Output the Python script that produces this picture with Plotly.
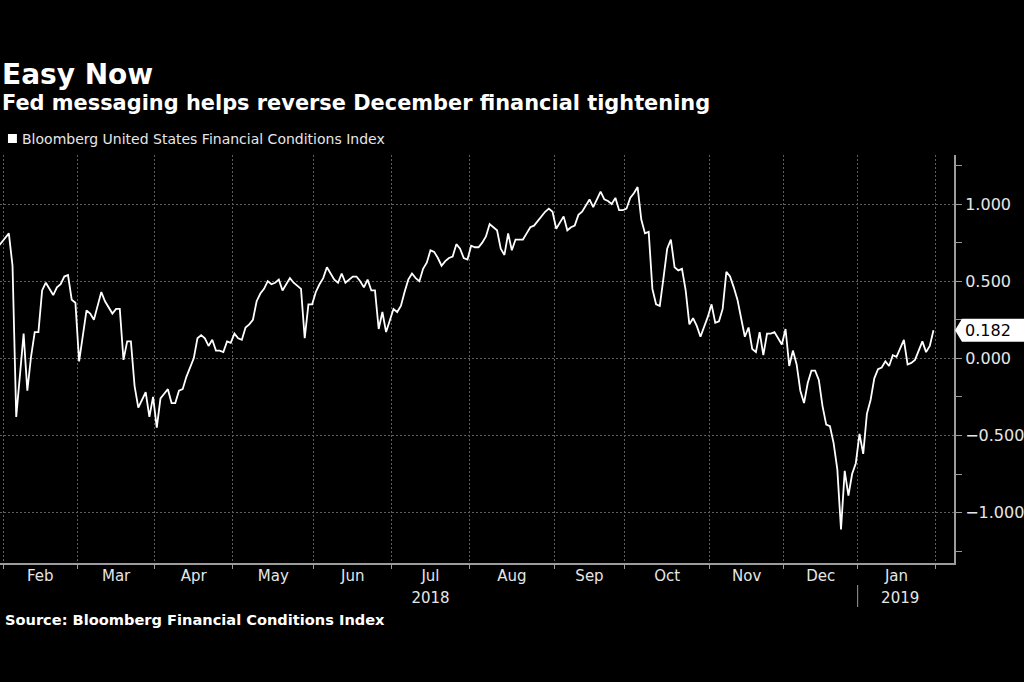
import plotly.graph_objects as go
import pandas as pd

# ---------------- data ----------------
series_name = "Bloomberg United States Financial Conditions Index"

dates = [
    "2018-01-30", "2018-01-31",
    "2018-02-01", "2018-02-02", "2018-02-05", "2018-02-06", "2018-02-08", "2018-02-09", "2018-02-12",
    "2018-02-13", "2018-02-14", "2018-02-15", "2018-02-16", "2018-02-19", "2018-02-20", "2018-02-21",
    "2018-02-22", "2018-02-23", "2018-02-26", "2018-02-27", "2018-02-28",
    "2018-03-01", "2018-03-02", "2018-03-05", "2018-03-06", "2018-03-07", "2018-03-08", "2018-03-09",
    "2018-03-12", "2018-03-13", "2018-03-14", "2018-03-15", "2018-03-16", "2018-03-19", "2018-03-20",
    "2018-03-21", "2018-03-22", "2018-03-23", "2018-03-26", "2018-03-27", "2018-03-28", "2018-03-29",
    "2018-04-02", "2018-04-03", "2018-04-04", "2018-04-05", "2018-04-06", "2018-04-09", "2018-04-10",
    "2018-04-11", "2018-04-12", "2018-04-13", "2018-04-16", "2018-04-17", "2018-04-18", "2018-04-19",
    "2018-04-20", "2018-04-23", "2018-04-24", "2018-04-25", "2018-04-26", "2018-04-27", "2018-04-30",
    "2018-05-01", "2018-05-02", "2018-05-03", "2018-05-04", "2018-05-07", "2018-05-08", "2018-05-09",
    "2018-05-10", "2018-05-11", "2018-05-14", "2018-05-15", "2018-05-16", "2018-05-17", "2018-05-18",
    "2018-05-21", "2018-05-22", "2018-05-23", "2018-05-24", "2018-05-25", "2018-05-29", "2018-05-30",
    "2018-05-31",
    "2018-06-01", "2018-06-04", "2018-06-05", "2018-06-06", "2018-06-07", "2018-06-08", "2018-06-11",
    "2018-06-12", "2018-06-13", "2018-06-14", "2018-06-15", "2018-06-18", "2018-06-19", "2018-06-20",
    "2018-06-21", "2018-06-22", "2018-06-25", "2018-06-26", "2018-06-27", "2018-06-28", "2018-06-29",
    "2018-07-02", "2018-07-03", "2018-07-05", "2018-07-06", "2018-07-09", "2018-07-10", "2018-07-11",
    "2018-07-12", "2018-07-13", "2018-07-16", "2018-07-17", "2018-07-18", "2018-07-19", "2018-07-20",
    "2018-07-23", "2018-07-24", "2018-07-25", "2018-07-26", "2018-07-27", "2018-07-30", "2018-07-31",
    "2018-08-01", "2018-08-02", "2018-08-03", "2018-08-06", "2018-08-07", "2018-08-08", "2018-08-09",
    "2018-08-10", "2018-08-13", "2018-08-14", "2018-08-15", "2018-08-16", "2018-08-17", "2018-08-20",
    "2018-08-21", "2018-08-22", "2018-08-23", "2018-08-24", "2018-08-27", "2018-08-28", "2018-08-29",
    "2018-08-30", "2018-08-31",
    "2018-09-04", "2018-09-05", "2018-09-06", "2018-09-07", "2018-09-10", "2018-09-11", "2018-09-12",
    "2018-09-13", "2018-09-14", "2018-09-17", "2018-09-18", "2018-09-19", "2018-09-20", "2018-09-21",
    "2018-09-24", "2018-09-25", "2018-09-26", "2018-09-27", "2018-09-28",
    "2018-10-01", "2018-10-02", "2018-10-03", "2018-10-04", "2018-10-05", "2018-10-08", "2018-10-09",
    "2018-10-10", "2018-10-11", "2018-10-12", "2018-10-15", "2018-10-16", "2018-10-17", "2018-10-18",
    "2018-10-19", "2018-10-22", "2018-10-23", "2018-10-24", "2018-10-25", "2018-10-26", "2018-10-29",
    "2018-10-30", "2018-10-31",
    "2018-11-01", "2018-11-02", "2018-11-05", "2018-11-06", "2018-11-07", "2018-11-08", "2018-11-09",
    "2018-11-12", "2018-11-13", "2018-11-14", "2018-11-15", "2018-11-16", "2018-11-19", "2018-11-20",
    "2018-11-21", "2018-11-26", "2018-11-27", "2018-11-28", "2018-11-29", "2018-11-30",
    "2018-12-03", "2018-12-04", "2018-12-05", "2018-12-06", "2018-12-07", "2018-12-10", "2018-12-11",
    "2018-12-12", "2018-12-13", "2018-12-14", "2018-12-17", "2018-12-18", "2018-12-19", "2018-12-20",
    "2018-12-21", "2018-12-24", "2018-12-26", "2018-12-27", "2018-12-28", "2018-12-31",
    "2019-01-02", "2019-01-03", "2019-01-04", "2019-01-07", "2019-01-08", "2019-01-09", "2019-01-10",
    "2019-01-11", "2019-01-14", "2019-01-15", "2019-01-16", "2019-01-17", "2019-01-18", "2019-01-22",
    "2019-01-23", "2019-01-24", "2019-01-25", "2019-01-28", "2019-01-29", "2019-01-30", "2019-01-31",
]

fci = [
    0.72, 0.75,
    0.78, 0.81, 0.60, -0.38, 0.16, -0.21, 0.01,
    0.17, 0.17, 0.44, 0.49, 0.45, 0.41, 0.46,
    0.48, 0.53, 0.54, 0.38, 0.36,
    -0.02, 0.14, 0.31, 0.29, 0.25, 0.34, 0.43,
    0.37, 0.33, 0.29, 0.32, 0.32, -0.01, 0.11,
    0.11, -0.18, -0.32, -0.27, -0.22, -0.38, -0.25,
    -0.45, -0.26, -0.23, -0.20, -0.29, -0.29, -0.21,
    -0.20, -0.12, -0.06, 0.00, 0.13, 0.15, 0.13,
    0.08, 0.12, 0.05, 0.05, 0.04, 0.11, 0.10,
    0.16, 0.13, 0.12, 0.20, 0.22, 0.25, 0.37,
    0.42, 0.45, 0.50, 0.48, 0.49, 0.51, 0.44,
    0.48, 0.52, 0.49, 0.47, 0.45, 0.13, 0.35,
    0.35,
    0.43, 0.48, 0.52, 0.59, 0.55, 0.51, 0.49,
    0.55, 0.49, 0.51, 0.53, 0.53, 0.50, 0.46,
    0.51, 0.44, 0.44, 0.19, 0.30, 0.17, 0.25,
    0.32, 0.30, 0.34, 0.43, 0.51, 0.55, 0.52,
    0.50, 0.58, 0.62, 0.70, 0.69, 0.65, 0.60,
    0.63, 0.65, 0.66, 0.74, 0.71, 0.65, 0.64,
    0.73, 0.72, 0.72, 0.75, 0.79, 0.87, 0.85,
    0.83, 0.71, 0.67, 0.81, 0.70, 0.77, 0.77,
    0.77, 0.81, 0.85, 0.86, 0.89, 0.92, 0.95,
    0.97, 0.95,
    0.84, 0.88, 0.92, 0.83, 0.85, 0.86, 0.93,
    0.95, 0.99, 1.03, 0.98, 1.03, 1.08, 1.03,
    1.02, 1.00, 1.04, 0.96, 0.96,
    0.97, 1.04, 1.07, 1.11, 0.90, 0.81, 0.82,
    0.45, 0.35, 0.34, 0.52, 0.71, 0.77, 0.59,
    0.57, 0.58, 0.44, 0.22, 0.26, 0.21, 0.14,
    0.20, 0.27,
    0.35, 0.23, 0.24, 0.32, 0.56, 0.53, 0.46,
    0.38, 0.26, 0.14, 0.20, 0.06, 0.04, 0.17,
    0.02, 0.16, 0.16, 0.17, 0.13, 0.09,
    0.19, -0.05, 0.05, -0.04, -0.21, -0.29, -0.16,
    -0.08, -0.08, -0.14, -0.31, -0.43, -0.44, -0.55,
    -0.72, -1.11, -0.73, -0.89, -0.75, -0.68,
    -0.49, -0.62, -0.36, -0.27, -0.13, -0.07, -0.06,
    -0.02, -0.05, 0.02, 0.01, 0.06, 0.12, -0.04,
    -0.03, -0.01, 0.05, 0.11, 0.04, 0.08, 0.182,
]

# market holidays removed from the trading-day axis
holidays = ["2018-03-30", "2018-05-28", "2018-07-04", "2018-09-03", "2018-11-22",
            "2018-11-23", "2018-12-25", "2019-01-01", "2019-01-21"]

# first session of each month (tick / grid positions)
month_starts = ["2018-02-01", "2018-03-01", "2018-04-02", "2018-05-01", "2018-06-01",
                "2018-07-02", "2018-08-01", "2018-09-04", "2018-10-01", "2018-11-01",
                "2018-12-03", "2019-01-02", "2019-02-01"]
# centre of each month on the trading-day axis (label positions)
month_mids = ["2018-02-15", "2018-03-15 12:00", "2018-04-16 12:00", "2018-05-16",
              "2018-06-15 12:00", "2018-07-17 12:00", "2018-08-16 12:00", "2018-09-17 12:00",
              "2018-10-16 12:00", "2018-11-15", "2018-12-17", "2019-01-16 12:00"]
month_labels = ["Feb", "Mar", "Apr", "May", "Jun", "Jul", "Aug", "Sep", "Oct",
                "Nov", "Dec", "Jan"]
year_mids = ["2018-07-17 12:00", "2019-01-17 12:00"]
year_labels = ["2018", "2019"]
y_ticks = [-1.0, -0.5, 0.0, 0.5, 1.0]

title = "Easy Now"
subtitle = "Fed messaging helps reverse December financial tightening"
source = "Source: Bloomberg Financial Conditions Index"

# ---------------- layout geometry ----------------
W, H = 1024, 682
L, R, T, B = 0, 958, 155, 563
X_RANGE = ["2018-01-31 02:40", "2019-02-08 01:10"]
Y_RANGE = [-1.327, 1.318]


def px(x):
    return (x - L) / (R - L)


def py(y):
    return (B - y) / (B - T)


FONT = "DejaVu Sans"
AXIS_COL = "#9c9c9c"
GRID_COL = "#5e5e5e"
TEXT_COL = "#e6e6e6"
DASH = "2px,2px"

breaks = [dict(bounds=["sat", "mon"]), dict(values=holidays)]

# each session is drawn in the middle of its slot
x_plot = pd.to_datetime(dates) + pd.Timedelta(hours=12)

fig = go.Figure()
fig.add_trace(go.Scatter(
    x=x_plot, y=fci, mode="lines", name=series_name,
    line=dict(color="#ffffff", width=1.8), showlegend=False, hoverinfo="x+y",
))
# helpers so that the label axes are drawn
fig.add_trace(go.Scatter(x=[x_plot[0]], y=[None], xaxis="x2", mode="lines",
                         showlegend=False, hoverinfo="skip"))
fig.add_trace(go.Scatter(x=[x_plot[0]], y=[None], xaxis="x3", mode="lines",
                         showlegend=False, hoverinfo="skip"))

label_axis = dict(type="date", range=X_RANGE, rangebreaks=breaks, overlaying="x",
                  side="bottom", anchor="y", tickmode="array", ticks="", ticklen=0,
                  showgrid=False, showline=False, zeroline=False, fixedrange=True,
                  tickfont=dict(family=FONT, size=15, color=TEXT_COL))

fig.update_layout(
    width=W, height=H,
    paper_bgcolor="#000000", plot_bgcolor="#000000",
    margin=dict(l=L, r=W - R, t=T, b=H - B, pad=0),
    font=dict(family=FONT, color=TEXT_COL),
    showlegend=False,
    xaxis=dict(
        type="date", range=X_RANGE, rangebreaks=breaks,
        tickmode="array", tickvals=month_starts, showticklabels=False,
        ticks="outside", ticklen=4, tickcolor=AXIS_COL, tickwidth=1,
        showgrid=True, gridcolor=GRID_COL, griddash=DASH, gridwidth=1,
        showline=True, linecolor=AXIS_COL, linewidth=2,
        zeroline=False, fixedrange=True,
    ),
    xaxis2=dict(label_axis, tickvals=month_mids, ticktext=month_labels, ticklabelstandoff=2),
    xaxis3=dict(label_axis, tickvals=year_mids, ticktext=year_labels, ticklabelstandoff=24),
    yaxis=dict(
        range=Y_RANGE, side="right", tickmode="array", tickvals=y_ticks,
        tickformat=".3f", ticks="outside", ticklen=6, tickcolor=AXIS_COL,
        tickfont=dict(family=FONT, size=16, color=TEXT_COL),
        minor=dict(dtick=0.25, tick0=0, ticks="outside", ticklen=6, tickcolor=AXIS_COL,
                   showgrid=False),
        showgrid=True, gridcolor=GRID_COL, griddash=DASH, gridwidth=1,
        showline=True, linecolor=AXIS_COL, linewidth=2, zeroline=False, fixedrange=True,
    ),
)

# year separator under the axis
fig.add_shape(type="line", xref="x", yref="paper", x0=month_starts[11], x1=month_starts[11],
              y0=py(585), y1=py(607), line=dict(color=AXIS_COL, width=1))

# titles, legend and source
fig.add_annotation(text=f"<b>{title}</b>", xref="paper", yref="paper", x=px(0), y=py(74),
                   xanchor="left", yanchor="middle", showarrow=False,
                   font=dict(family=FONT, size=28, color="#ffffff"))
fig.add_annotation(text=f"<b>{subtitle}</b>", xref="paper", yref="paper", x=px(0), y=py(103),
                   xanchor="left", yanchor="middle", showarrow=False,
                   font=dict(family=FONT, size=20.9, color="#ffffff"))
fig.add_shape(type="rect", xref="paper", yref="paper", x0=px(8), x1=px(17), y0=py(143),
              y1=py(134), fillcolor="#ffffff", line=dict(width=0))
fig.add_annotation(text=series_name, xref="paper", yref="paper", x=px(20), y=py(139),
                   xanchor="left", yanchor="middle", showarrow=False,
                   font=dict(family=FONT, size=14, color=TEXT_COL))
fig.add_annotation(text=f"<b>{source}</b>", xref="paper", yref="paper", x=px(3), y=py(619),
                   xanchor="left", yanchor="middle", showarrow=False,
                   font=dict(family=FONT, size=14.6, color="#ffffff"))

# last-value tag on the right axis
last = fci[-1]
half = 11.5 * (Y_RANGE[1] - Y_RANGE[0]) / (B - T)
x_tip, x_body, x_end = px(959), px(966), px(1030)
fig.add_shape(type="path", xref="paper", yref="y",
              path=(f"M {x_tip},{last} L {x_body},{last + half} L {x_end},{last + half} "
                    f"L {x_end},{last - half} L {x_body},{last - half} Z"),
              fillcolor="#ffffff", line=dict(width=0))
fig.add_annotation(text=f"{last:.3f}", xref="paper", yref="y", x=px(967), y=last,
                   xanchor="left", yanchor="middle", showarrow=False,
                   font=dict(family=FONT, size=16, color="#000000"))

# page without the browser's default body margin, no mode bar
fig.write_html("out.html", config={"displayModeBar": False},
               post_script="document.body.style.margin='0px';")
